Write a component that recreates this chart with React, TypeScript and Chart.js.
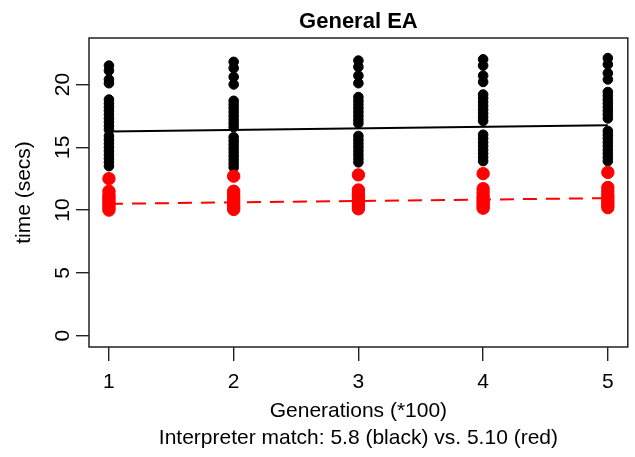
import { useEffect, useRef } from 'react';
import { Chart, registerables } from 'chart.js';

Chart.register(...registerables);

const FONT = '"Liberation Sans", Arial, Helvetica, sans-serif';

// Generations (*100)
const generations = [1, 2, 3, 4, 5];
const xTickValues = [1, 2, 3, 4, 5];
const yTickValues = [0, 5, 10, 15, 20];

// Interpreter 5.8 (black) run times, secs, per generation
const blackTimes1 = [21.5, 21.1, 20.4, 20.1, 18.8, 18.5, 18.2, 17.9, 17.6, 17.3, 17.0, 16.7, 16.4, 15.9, 15.6, 15.3, 15.0, 14.7, 14.4, 14.1, 13.8, 13.5];
const blackTimes2 = [21.8, 21.3, 20.6, 20.0, 18.7, 18.4, 18.1, 17.8, 17.5, 17.2, 16.9, 16.6, 15.8, 15.5, 15.2, 14.9, 14.6, 14.3, 14.0, 13.7, 13.4];
const blackTimes3 = [21.9, 21.4, 20.7, 20.1, 19.0, 18.7, 18.4, 18.1, 17.8, 17.5, 17.2, 16.9, 15.9, 15.6, 15.3, 15.0, 14.7, 14.4, 14.1, 13.8];
const blackTimes4 = [22.0, 21.5, 20.7, 20.2, 19.2, 18.9, 18.6, 18.3, 18.0, 17.7, 17.4, 17.1, 16.0, 15.7, 15.4, 15.1, 14.8, 14.5, 14.2, 13.9];
const blackTimes5 = [22.1, 21.6, 20.9, 20.4, 19.4, 19.1, 18.8, 18.5, 18.2, 17.9, 17.6, 17.3, 16.3, 16.0, 15.7, 15.4, 15.1, 14.8, 14.5, 14.2, 13.9];

// Interpreter 5.10 (red) run times, secs, per generation
const redTimes1 = [12.5, 11.5, 11.2, 11.0, 10.8, 10.6, 10.4, 10.2, 10.0];
const redTimes2 = [12.7, 11.5, 11.2, 11.0, 10.8, 10.6, 10.4, 10.2, 10.05];
const redTimes3 = [12.8, 11.6, 11.3, 11.1, 10.9, 10.7, 10.5, 10.3, 10.1];
const redTimes4 = [12.9, 11.7, 11.4, 11.1, 10.9, 10.7, 10.5, 10.3, 10.15];
const redTimes5 = [13.0, 11.8, 11.5, 11.2, 11.0, 10.8, 10.6, 10.4, 10.2];

// regression fits (at first and last generation)
const fitX = [1, 5];
const blackFit = [16.25, 16.75];
const redFit = [10.5, 10.95];

const blackTimes = [blackTimes1, blackTimes2, blackTimes3, blackTimes4, blackTimes5];
const redTimes = [redTimes1, redTimes2, redTimes3, redTimes4, redTimes5];

const toPoints = (cols: number[][]) =>
  cols.flatMap((col, i) => col.map((y) => ({ x: generations[i], y })));

const boxPlugin = {
  id: 'box',
  afterDraw(chart: any) {
    const { ctx, chartArea } = chart;
    ctx.save();
    ctx.strokeStyle = '#222';
    ctx.lineWidth = 1.5;
    ctx.strokeRect(chartArea.left, chartArea.top, chartArea.right - chartArea.left, chartArea.bottom - chartArea.top);
    ctx.restore();
  },
};

export default function App() {
  const ref = useRef<HTMLCanvasElement>(null);

  useEffect(() => {
    document.body.style.margin = '0';
    const canvas = ref.current;
    if (!canvas) return;
    const chart = new Chart(canvas, {
      type: 'scatter',
      data: {
        datasets: [
          {
            label: 'red fit',
            data: fitX.map((x, i) => ({ x, y: redFit[i] })),
            showLine: true,
            borderColor: '#ff0000',
            borderWidth: 2,
            borderDash: [14, 9],
            pointRadius: 0,
          },
          {
            label: 'black fit',
            data: fitX.map((x, i) => ({ x, y: blackFit[i] })),
            showLine: true,
            borderColor: '#000',
            borderWidth: 2,
            pointRadius: 0,
          },
          {
            label: '5.10',
            data: toPoints(redTimes),
            backgroundColor: '#ff0000',
            borderColor: '#ff0000',
            borderWidth: 1,
            pointRadius: 6.2,
          },
          {
            label: '5.8',
            data: toPoints(blackTimes),
            backgroundColor: '#000',
            borderColor: '#000',
            borderWidth: 1,
            pointRadius: 4.8,
          },
        ],
      },
      options: {
        animation: false,
        responsive: false,
        devicePixelRatio: 1,
        layout: { padding: { left: 0, right: 4, top: 0, bottom: 0 } },
        font: { family: FONT },
        plugins: {
          legend: { display: false },
          tooltip: { enabled: false },
          title: {
            display: true,
            text: 'General EA',
            fullSize: false,
            color: '#000',
            font: { family: FONT, size: 22, weight: 'bold' },
            padding: { top: 8.5, bottom: 3.1 },
          },
          subtitle: {
            display: true,
            position: 'bottom',
            text: 'Interpreter match: 5.8 (black) vs. 5.10 (red)',
            fullSize: false,
            color: '#000',
            font: { family: FONT, size: 21 },
            padding: { top: 0, bottom: 6.4 },
          },
        },
        scales: {
          x: {
            type: 'linear',
            min: 0.84,
            max: 5.16,
            afterBuildTicks: (s: any) => {
              s.ticks = xTickValues.map((v) => ({ value: v }));
            },
            afterFit: (s: any) => {
              s.height = 78.4;
            },
            ticks: {
              color: '#000',
              font: { family: FONT, size: 21 },
              padding: 9,
              autoSkip: false,
              maxRotation: 0,
            },
            grid: { drawOnChartArea: false, drawTicks: true, tickLength: 14, color: '#222', lineWidth: 1.4 },
            border: { display: false },
            title: {
              display: true,
              text: 'Generations (*100)',
              color: '#000',
              font: { family: FONT, size: 21 },
              padding: { top: 0, bottom: 1.8 },
            },
          },
          y: {
            type: 'linear',
            min: -0.9,
            max: 23.7,
            afterBuildTicks: (s: any) => {
              s.ticks = yTickValues.map((v) => ({ value: v }));
            },
            afterFit: (s: any) => {
              s.width = 89;
            },
            ticks: {
              color: '#000',
              font: { family: FONT, size: 21 },
              padding: 1,
              minRotation: 90,
              maxRotation: 90,
              crossAlign: 'center',
              autoSkip: false,
            },
            grid: { drawOnChartArea: false, drawTicks: true, tickLength: 13, color: '#222', lineWidth: 1.4 },
            border: { display: false },
            title: {
              display: true,
              text: 'time (secs)',
              color: '#000',
              font: { family: FONT, size: 21 },
              padding: { top: 12, bottom: 0 },
            },
          },
        },
      },
      plugins: [boxPlugin],
    } as any);
    return () => chart.destroy();
  }, []);

  return <canvas ref={ref} width={635} height={457} style={{ display: 'block' }} />;
}
